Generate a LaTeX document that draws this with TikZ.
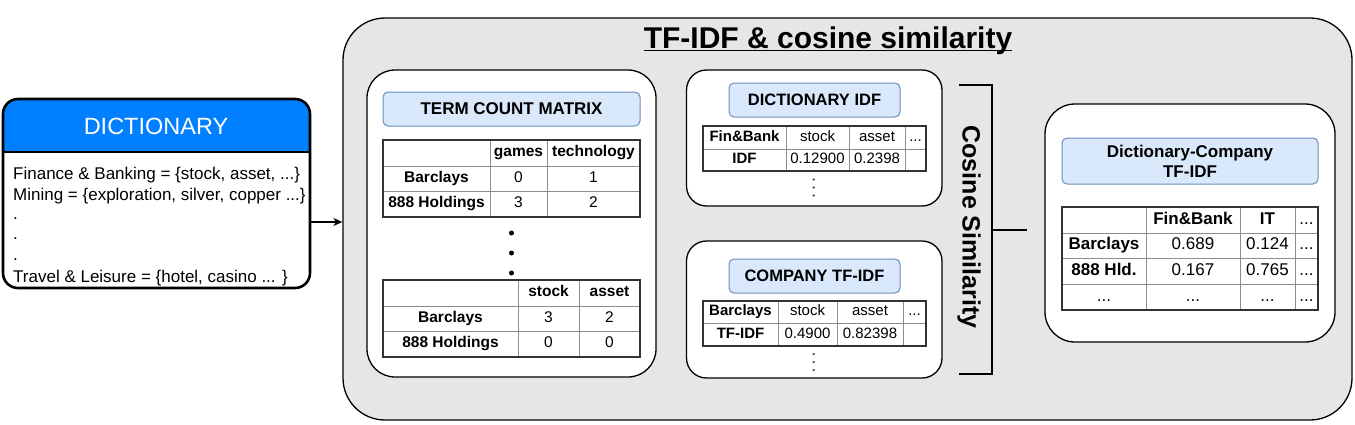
\documentclass[tikz,border=0pt]{standalone}
\usepackage{fontspec}
\setmainfont{Liberation Sans}
\usetikzlibrary{arrows.meta}
\definecolor{dictblue}{HTML}{007FFF}
\definecolor{hdrfill}{HTML}{DAE8FC}
\definecolor{hdrdraw}{HTML}{6C8EBF}
\definecolor{bggray}{HTML}{E6E6E6}
\definecolor{celline}{HTML}{8C8C8C}
\definecolor{tabline}{HTML}{333333}
\newcommand{\mycell}[6]{%
  \pgfmathsetmacro{\mycellW}{#4-#2}\pgfmathsetmacro{\mycellH}{#5-#3}%
  \node[tcell, minimum width=\mycellW pt, minimum height=\mycellH pt] (#1) at ({(#2+#4)/2},{(#3+#5)/2}) {\strut #6};}
\begin{document}
\begin{tikzpicture}[x=1pt,y=-1pt,
  panel/.style={draw=black, line width=1.3pt, fill=white, inner sep=0pt},
  hdr/.style={draw=hdrdraw, fill=hdrfill, line width=1pt, rounded corners=5pt, inner sep=0pt, align=center},
  tcell/.style={draw=celline, line width=0.9pt, inner sep=0pt, anchor=center},
  tout/.style={draw=tabline, line width=1.5pt},
  bigdot/.style={circle, fill=black, inner sep=0pt, minimum size=5pt},
  smalldot/.style={circle, fill=black!65, inner sep=0pt, minimum size=2.6pt},
  dline/.style={anchor=base west, inner sep=0pt, font=\fontsize{17}{20}\selectfont}]
\useasboundingbox[fill=white] (0,0) rectangle (1355,424);

% ---------------- Dictionary ----------------
\begin{scope}
  \clip (0,95) rectangle (315,152);
  \fill[dictblue, rounded corners=15pt] (3,99) rectangle (310,288);
\end{scope}
\draw[line width=2pt] (3,152) -- (310,152);
\node[draw=black, line width=2.6pt, rounded corners=15pt, minimum width=307pt, minimum height=189pt, inner sep=0pt] (dict) at (156.5,193.5) {};
\node[text=white, font=\fontsize{23.5}{28}\selectfont, inner sep=0pt] (dicttitle) at (156,126.5) {DICTIONARY};
\node[dline] (d1) at (13,179) {Finance \& Banking = \{stock, asset, ...\}};
\node[dline] (d2) at (13,200) {Mining = \{exploration, silver, copper ...\}};
\node[dline] (d3) at (13,219) {.};
\node[dline] (d4) at (13,239.5) {.};
\node[dline] (d5) at (13,260) {.};
\node[dline] (d6) at (13,282) {Travel \& Leisure = \{hotel, casino ... \}};

% ---------------- Big box ----------------
\node[draw=black, line width=1.3pt, fill=bggray, rounded corners=42pt, minimum width=1009pt, minimum height=402pt, inner sep=0pt] (big) at (847.5,219) {};
\coordinate (ay) at (0,222);
\draw[line width=1.3pt, -{Stealth[length=9pt,width=8pt]}] (dict.east |- ay) -- (big.west |- ay);
\node[font=\fontsize{30}{34}\selectfont\bfseries, inner sep=0pt, anchor=base] (title) at (828,48) {TF-IDF \& cosine similarity};
\draw[line width=1.3pt] ([yshift=-2.5pt]title.base west) -- ([yshift=-2.5pt]title.base east);

% ---------------- Term count matrix ----------------
\node[panel, rounded corners=28pt, minimum width=289pt, minimum height=307pt] (tcm) at (511.5,223.5) {};
\node[hdr, minimum width=257pt, minimum height=34pt, font=\fontsize{17}{20}\selectfont\bfseries] (tcmh) at (511.5,109) {TERM COUNT MATRIX};
\begin{scope}[tcell/.append style={font=\fontsize{15.5}{18}\selectfont}]
\mycell{a00}{383}{140}{490}{166}{}
\mycell{a01}{490}{140}{547}{166}{\bfseries games}
\mycell{a02}{547}{140}{640}{166}{\bfseries technology}
\mycell{a10}{383}{166}{490}{191}{\bfseries Barclays}
\mycell{a11}{490}{166}{547}{191}{0}
\mycell{a12}{547}{166}{640}{191}{1}
\mycell{a20}{383}{191}{490}{217}{\bfseries 888 Holdings}
\mycell{a21}{490}{191}{547}{217}{3}
\mycell{a22}{547}{191}{640}{217}{2}
\draw[tout] (383,140) rectangle (640,217);
\node[bigdot] (tdot1) at (511.5,233) {};
\node[bigdot] (tdot2) at (511.5,253) {};
\node[bigdot] (tdot3) at (511.5,273) {};
\mycell{b00}{383}{280}{518}{306}{}
\mycell{b01}{518}{280}{579}{306}{\bfseries stock}
\mycell{b02}{579}{280}{640}{306}{\bfseries asset}
\mycell{b10}{383}{306}{518}{331}{\bfseries Barclays}
\mycell{b11}{518}{306}{579}{331}{3}
\mycell{b12}{579}{306}{640}{331}{2}
\mycell{b20}{383}{331}{518}{357}{\bfseries 888 Holdings}
\mycell{b21}{518}{331}{579}{357}{0}
\mycell{b22}{579}{331}{640}{357}{0}
\draw[tout] (383,280) rectangle (640,357);
\end{scope}

% ---------------- Dictionary IDF ----------------
\node[panel, rounded corners=20pt, minimum width=255.5pt, minimum height=136pt] (didf) at (814.25,138) {};
\node[hdr, minimum width=171pt, minimum height=34pt, font=\fontsize{16.5}{20}\selectfont\bfseries] (didfh) at (814.5,100) {DICTIONARY IDF};
\begin{scope}[tcell/.append style={font=\fontsize{15}{18}\selectfont}]
\mycell{c00}{703}{126}{786}{149}{\bfseries Fin\&Bank}
\mycell{c01}{786}{126}{849}{149}{stock}
\mycell{c02}{849}{126}{905}{149}{asset}
\mycell{c03}{905}{126}{926}{149}{...}
\mycell{c10}{703}{149}{786}{171}{\bfseries IDF}
\mycell{c11}{786}{149}{849}{171}{0.12900}
\mycell{c12}{849}{149}{905}{171}{0.2398}
\mycell{c13}{905}{149}{926}{171}{}
\draw[tout] (703,126) rectangle (926,171);
\end{scope}
\node[smalldot] (idot1) at (813.7,179.5) {};
\node[smalldot] (idot2) at (813.7,187.5) {};
\node[smalldot] (idot3) at (813.7,195.5) {};

% ---------------- Company TF-IDF ----------------
\node[panel, rounded corners=20pt, minimum width=255.5pt, minimum height=137pt] (ctf) at (814.25,309.5) {};
\node[hdr, minimum width=171pt, minimum height=34pt, font=\fontsize{16.5}{20}\selectfont\bfseries] (ctfh) at (814.5,276) {COMPANY TF-IDF};
\begin{scope}[tcell/.append style={font=\fontsize{15}{18}\selectfont}]
\mycell{e00}{703}{301}{778}{323.5}{\bfseries Barclays}
\mycell{e01}{778}{301}{837}{323.5}{stock}
\mycell{e02}{837}{301}{903}{323.5}{asset}
\mycell{e03}{903}{301}{926}{323.5}{...}
\mycell{e10}{703}{323.5}{778}{346}{\bfseries TF-IDF}
\mycell{e11}{778}{323.5}{837}{346}{0.4900}
\mycell{e12}{837}{323.5}{903}{346}{0.82398}
\mycell{e13}{903}{323.5}{926}{346}{}
\draw[tout] (703,301) rectangle (926,346);
\end{scope}
\node[smalldot] (cdot1) at (813.7,354) {};
\node[smalldot] (cdot2) at (813.7,362) {};
\node[smalldot] (cdot3) at (813.7,370) {};

% ---------------- Cosine similarity bracket ----------------
\coordinate (bt1) at (959,85);
\coordinate (bt2) at (992,85);
\coordinate (bb2) at (992,374);
\coordinate (bb1) at (959,374);
\coordinate (bm) at (992,229.5);
\coordinate (bme) at (1027,229.5);
\draw[line width=2pt] (bt1) -- (bt2) -- (bb2) -- (bb1);
\draw[line width=2pt] (bm) -- (bme);
\node[rotate=-90, font=\fontsize{25}{30}\selectfont\bfseries, inner sep=0pt] (cos) at (969,227) {Cosine Similarity};

% ---------------- Dictionary-Company TF-IDF ----------------
\node[panel, rounded corners=30pt, minimum width=290pt, minimum height=238pt] (dc) at (1190,223) {};
\node[hdr, minimum width=256pt, minimum height=46pt, font=\fontsize{17}{20}\selectfont\bfseries] (dch) at (1190,161) {Dictionary-Company\\TF-IDF};
\begin{scope}[tcell/.append style={font=\fontsize{17}{20}\selectfont}]
\mycell{f00}{1062}{207}{1146}{233}{}
\mycell{f01}{1146}{207}{1240}{233}{\bfseries Fin\&Bank}
\mycell{f02}{1240}{207}{1295}{233}{\bfseries IT}
\mycell{f03}{1295}{207}{1318}{233}{...}
\mycell{f10}{1062}{233}{1146}{258}{\bfseries Barclays}
\mycell{f11}{1146}{233}{1240}{258}{0.689}
\mycell{f12}{1240}{233}{1295}{258}{0.124}
\mycell{f13}{1295}{233}{1318}{258}{...}
\mycell{f20}{1062}{258}{1146}{284}{\bfseries 888 Hld.}
\mycell{f21}{1146}{258}{1240}{284}{0.167}
\mycell{f22}{1240}{258}{1295}{284}{0.765}
\mycell{f23}{1295}{258}{1318}{284}{...}
\mycell{f30}{1062}{284}{1146}{310}{...}
\mycell{f31}{1146}{284}{1240}{310}{...}
\mycell{f32}{1240}{284}{1295}{310}{...}
\mycell{f33}{1295}{284}{1318}{310}{...}
\draw[tout] (1062,207) rectangle (1318,310);
\end{scope}
\end{tikzpicture}
\end{document}
